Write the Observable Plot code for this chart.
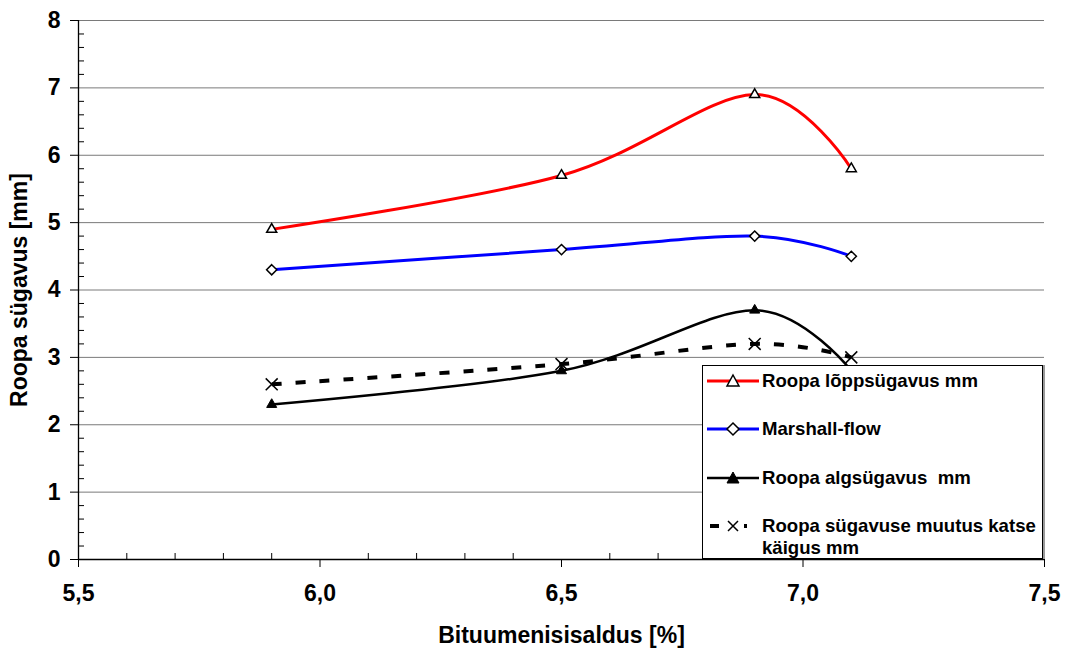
<!DOCTYPE html>
<html>
<head>
<meta charset="utf-8">
<script src="https://cdn.jsdelivr.net/npm/d3@7"></script>
<script src="https://cdn.jsdelivr.net/npm/@observablehq/plot@0.6"></script>
<style>
  body { margin: 0; background: white; font-family: "Liberation Sans", Arial, sans-serif; }
  #wrap { position: relative; width: 1066px; height: 650px; }
  #legend { position: absolute; left: 702px; top: 365px; width: 339px; height: 192px;
    border: 1px solid #000; background: #fff; box-shadow: 2px 0 0 #999; }
  .row { position: absolute; left: 0; display: flex; align-items: flex-start; }
  .row svg { flex: none; }
  .row span { font-weight: bold; font-size: 18.6px; line-height: 22px; color: #000; margin-left: 1px; white-space: pre-wrap; }
</style>
</head>
<body>
<div id="wrap"></div>
<script>
// ---- data ----
const bitumen = [5.9, 6.5, 6.9, 7.1];
const loppsugavus = [4.9, 5.7, 6.9, 5.8];
const marshallFlow = [4.3, 4.6, 4.8, 4.5];
const algsugavus = [2.3, 2.8, 3.7, 2.8];
const muutus = [2.6, 2.9, 3.2, 3.0];
const seriesNames = ["Roopa lõppsügavus mm", "Marshall-flow", "Roopa algsügavus  mm", "Roopa sügavuse muutus katse käigus mm"];
const xTicks = [5.5, 6.0, 6.5, 7.0, 7.5];
const xMinor = [5.6, 5.7, 5.8, 5.9, 6.1, 6.2, 6.3, 6.4, 6.6, 6.7, 6.8, 6.9, 7.1, 7.2, 7.3, 7.4];
const yTicks = [0, 1, 2, 3, 4, 5, 6, 7, 8];
const yMinor = d3.range(0, 8, 0.2).map(v => +v.toFixed(1)).filter(v => Math.abs(v - Math.round(v)) > 1e-9);
const xLabel = "Bituumenisisaldus [%]";
const yLabel = "Roopa sügavus [mm]";

const mk = (vals) => bitumen.map((x, i) => ({x, y: vals[i]}));
const red = mk(loppsugavus), blue = mk(marshallFlow), black = mk(algsugavus), dash = mk(muutus);

const fmt = d => d.toFixed(1).replace(".", ",");
const font = {fontSize: 23, fontWeight: "bold"};

const chart = Plot.plot({
  width: 1066, height: 650,
  marginLeft: 78, marginRight: 22, marginTop: 20, marginBottom: 91,
  x: {domain: [5.5, 7.5]},
  y: {domain: [0, 8]},
  style: {fontFamily: "'Liberation Sans', Arial, sans-serif", background: "white", color: "black"},
  marks: [
    Plot.ruleY(yTicks.filter(d => d > 0), {stroke: "#7a7a7a", strokeWidth: 1}),
    Plot.tickY(yMinor, {stroke: "black", insetRight: 960}),
    Plot.tickX(xMinor, {stroke: "black", insetTop: 533}),
    Plot.ruleX([5.5], {stroke: "black", strokeWidth: 1.3}),
    Plot.ruleY([0], {stroke: "black", strokeWidth: 1.3}),
    Plot.axisY(yTicks, {tickSize: 8, tickPadding: 10, ...font, tickFormat: d => String(d),
      label: yLabel, labelAnchor: "center", labelOffset: 68, labelArrow: "none"}),
    Plot.axisX(xTicks, {tickSize: 8, tickPadding: 17, ...font, tickFormat: fmt,
      label: xLabel, labelAnchor: "center", labelOffset: 83, labelArrow: "none"}),
    Plot.line(dash, {x: "x", y: "y", curve: "cardinal", stroke: "black", strokeWidth: 4, strokeDasharray: "10,14", strokeLinecap: "butt"}),
    Plot.line(black, {x: "x", y: "y", curve: "cardinal", stroke: "black", strokeWidth: 2.5}),
    Plot.line(blue, {x: "x", y: "y", curve: "cardinal", stroke: "#0000ff", strokeWidth: 3}),
    Plot.line(red, {x: "x", y: "y", curve: "cardinal", stroke: "#ff0000", strokeWidth: 3}),
    Plot.dot(red, {x: "x", y: "y", symbol: "triangle2", r: 4.8, fill: "white", stroke: "black", strokeWidth: 1.5}),
    Plot.dot(blue, {x: "x", y: "y", symbol: "diamond2", r: 4.6, fill: "white", stroke: "black", strokeWidth: 1.5}),
    Plot.dot(black, {x: "x", y: "y", symbol: "triangle2", r: 4.8, fill: "black", stroke: "black", strokeWidth: 1}),
    Plot.dot(dash, {x: "x", y: "y", symbol: "times", r: 5.5, stroke: "black", strokeWidth: 1.5})
  ]
});
const wrap = document.getElementById("wrap");
wrap.appendChild(chart);

// ---- legend ----
const legend = document.createElement("div");
legend.id = "legend";
wrap.appendChild(legend);
const samples = [
  {line: '<line x1="4" x2="56" y1="11" y2="11" stroke="#ff0000" stroke-width="3"/>',
   mark: '<path d="M30,5 L36,16 L24,16 Z" fill="white" stroke="black" stroke-width="1.5"/>'},
  {line: '<line x1="4" x2="56" y1="11" y2="11" stroke="#0000ff" stroke-width="3"/>',
   mark: '<path d="M30,5 L36,11 L30,17 L24,11 Z" fill="white" stroke="black" stroke-width="1.5"/>'},
  {line: '<line x1="4" x2="56" y1="11" y2="11" stroke="black" stroke-width="2.5"/>',
   mark: '<path d="M30,5 L36,16 L24,16 Z" fill="black" stroke="black" stroke-width="1"/>'},
  {line: '<line x1="7" x2="16" y1="11" y2="11" stroke="black" stroke-width="4"/><line x1="41" x2="44" y1="11" y2="11" stroke="black" stroke-width="4"/>',
   mark: '<path d="M25,6 L35,16 M35,6 L25,16" stroke="black" stroke-width="1.5"/>'}
];
const tops = [4, 52, 101, 149];
seriesNames.forEach((name, i) => {
  const row = document.createElement("div");
  row.className = "row";
  row.style.top = tops[i] + "px";
  row.innerHTML = `<svg width="58" height="22">${samples[i].line}${samples[i].mark}</svg><span style="width:${i === 3 ? 275 : 280}px">${name}</span>`;
  legend.appendChild(row);
});
</script>
</body>
</html>
